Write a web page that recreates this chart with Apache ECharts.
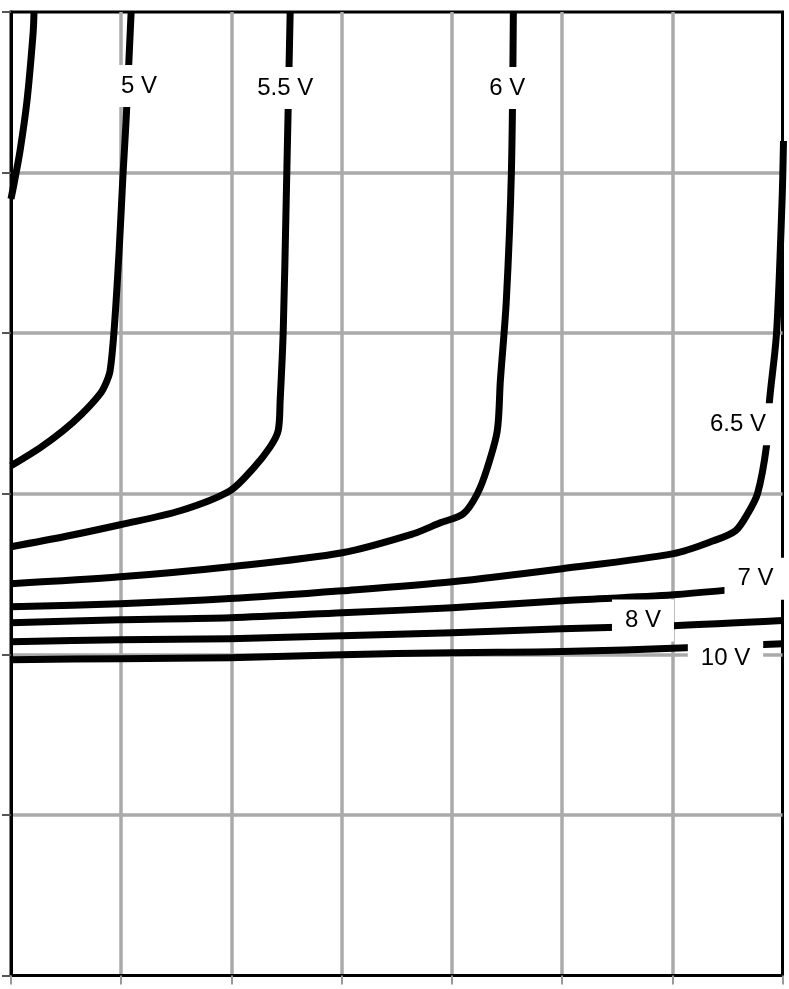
<!DOCTYPE html>
<html><head><meta charset="utf-8">
<script src="https://cdn.jsdelivr.net/npm/echarts@6/dist/echarts.min.js"></script>
<style>html,body{margin:0;padding:0;background:#fff}#c{width:789px;height:989px}</style>
</head><body><div id="c"></div>
<script>
// x axis 0..7 divisions, y axis 0..6 divisions (no tick labels in the source)
const xTicks = [0, 1, 2, 3, 4, 5, 6, 7];
const yTicks = [0, 1, 2, 3, 4, 5, 6];

// Curves (gate voltages)
const c45X = [0, 0.027, 0.082, 0.145, 0.2, 0.209];
const c45Y = [4.836, 4.929, 5.135, 5.446, 5.863, 6.0];

const c5X = [0, 0.263, 0.472, 0.645, 0.808, 0.863, 0.899, 0.935, 0.981, 1.017, 1.044, 1.09];
const c5Y = [3.174, 3.286, 3.392, 3.498, 3.622, 3.691, 3.766, 4.014, 4.512, 4.998, 5.322, 6.0];

const c55X = [0, 0.5, 0.99, 1.534, 1.988, 2.2, 2.35, 2.424, 2.442, 2.47, 2.497, 2.533];
const c55Y = [2.67, 2.735, 2.807, 2.894, 3.019, 3.16, 3.29, 3.392, 3.579, 4.014, 4.824, 6.0];

const c6X = [0, 0.99, 1.988, 3.005, 3.65, 3.895, 4.104, 4.231, 4.322, 4.412, 4.44, 4.494, 4.54, 4.558];
const c6Y = [2.44, 2.483, 2.546, 2.633, 2.751, 2.819, 2.875, 3.0, 3.162, 3.392, 3.703, 4.201, 4.998, 6.0];

const c65X = [0, 0.99, 1.988, 3.005, 4.004, 5.0, 6.011, 6.374, 6.574, 6.683, 6.773, 6.855, 6.882, 6.946, 6.996, 7.009];
const c65Y = [2.297, 2.315, 2.347, 2.396, 2.452, 2.533, 2.627, 2.707, 2.77, 2.875, 3.0, 3.299, 3.579, 4.002, 4.824, 5.197];

const c7X = [0, 0.99, 1.988, 3.005, 4.004, 5.0, 6.011, 7.0];
const c7Y = [2.197, 2.216, 2.228, 2.259, 2.29, 2.334, 2.371, 2.434];

const c8X = [0, 0.99, 1.988, 3.005, 4.004, 5.0, 6.011, 7.0];
const c8Y = [2.079, 2.091, 2.097, 2.116, 2.135, 2.16, 2.178, 2.21];

const c10X = [0, 0.99, 1.988, 3.005, 4.004, 5.0, 6.128, 7.0];
const c10Y = [1.967, 1.973, 1.979, 1.998, 2.01, 2.017, 2.041, 2.066];

// Curve labels
const labelNames = ['5 V', '5.5 V', '6 V', '6.5 V', '7 V', '8 V', '10 V'];
const labelX = [1.162, 2.488, 4.503, 6.596, 6.755, 5.734, 6.483];
const labelY = [5.539, 5.527, 5.527, 3.433, 2.471, 2.21, 1.973];

const curves = [
  [c45X, c45Y], [c5X, c5Y], [c55X, c55Y], [c6X, c6Y],
  [c65X, c65Y], [c7X, c7Y], [c8X, c8Y], [c10X, c10Y]
];

const zip = (xs, ys) => xs.map((x, i) => [x, ys[i]]);

const series = curves.map(([xs, ys]) => ({
  type: 'line',
  data: zip(xs, ys),
  showSymbol: false,
  smooth: 0.3,
  lineStyle: { color: '#000', width: 7, join: 'round' },
  z: 3,
  silent: true,
  clip: true
}));

series.push({
  type: 'custom',
  z: 10,
  silent: true,
  data: labelNames.map((n, i) => [labelX[i], labelY[i]]),
  renderItem: function (params, api) {
    const p = api.coord([api.value(0), api.value(1)]);
    return {
      type: 'text',
      x: p[0], y: p[1],
      z2: 100,
      style: {
        text: labelNames[params.dataIndex],
        fill: '#000',
        font: '24px "Liberation Sans", Arial, sans-serif',
        align: 'center',
        verticalAlign: 'middle',
        backgroundColor: '#fff',
        padding: [9, 13]
      }
    };
  }
});

const chart = echarts.init(document.getElementById('c'), null, { renderer: 'canvas' });
chart.setOption({
  animation: false,
  backgroundColor: '#fff',
  grid: { left: 11, right: 6.5, top: 12, bottom: 13.5, show: true, borderColor: '#000', borderWidth: 3, backgroundColor: 'transparent' },
  xAxis: {
    type: 'value', min: xTicks[0], max: xTicks[xTicks.length - 1], interval: 1,
    axisLine: { show: true, onZero: false, lineStyle: { color: '#000', width: 3 } },
    axisTick: { show: true, inside: false, length: 9, lineStyle: { color: '#999', width: 2 } },
    axisLabel: { show: false },
    splitLine: { show: true, showMinLine: false, showMaxLine: false, lineStyle: { color: '#aaa', width: 3.5 } }
  },
  yAxis: {
    type: 'value', min: yTicks[0], max: yTicks[yTicks.length - 1], interval: 1,
    axisLine: { show: true, onZero: false, lineStyle: { color: '#000', width: 3 } },
    axisTick: { show: true, inside: false, length: 9, lineStyle: { color: '#555', width: 2 } },
    axisLabel: { show: false },
    splitLine: { show: true, showMinLine: false, showMaxLine: false, lineStyle: { color: '#aaa', width: 3.5 } }
  },
  series: series
});
</script></body></html>
